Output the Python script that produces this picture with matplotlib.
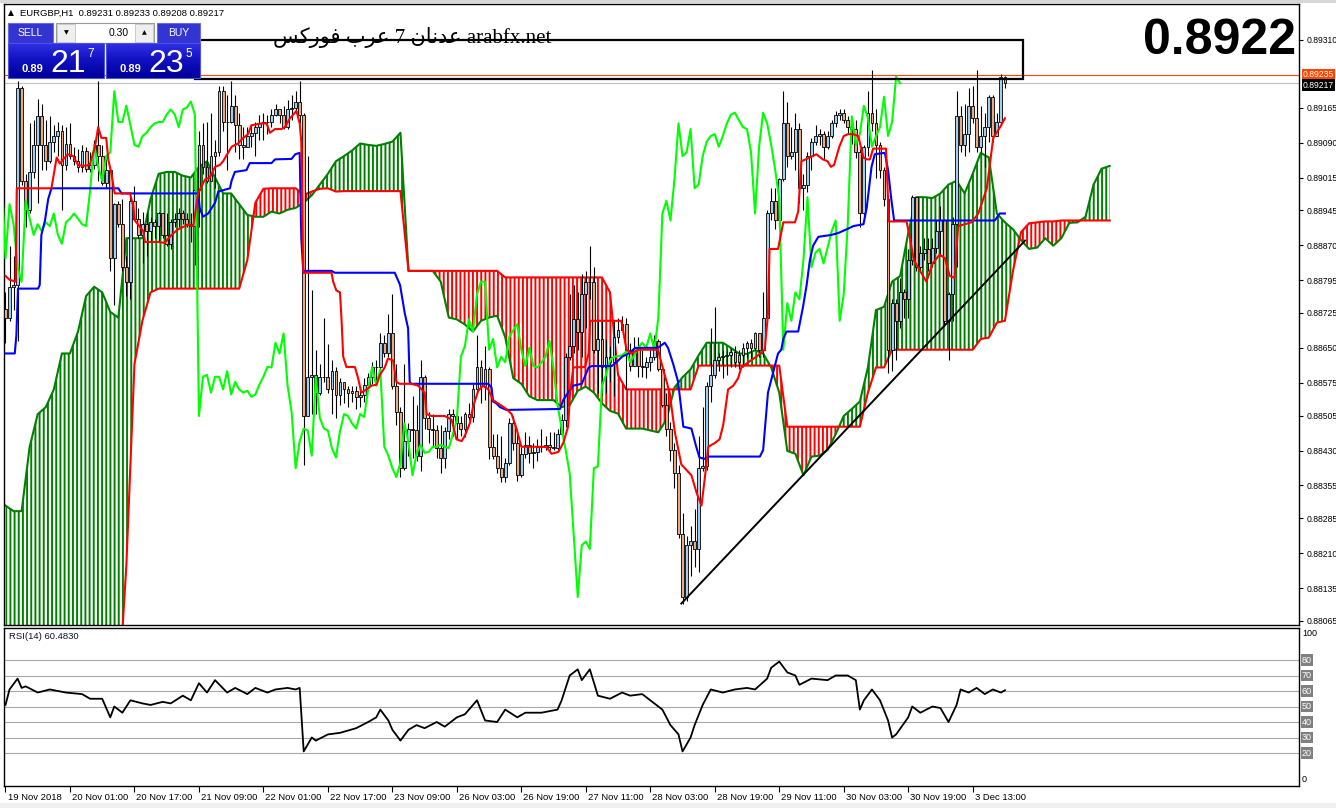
import matplotlib
matplotlib.use("Agg")
import matplotlib.pyplot as plt
import matplotlib.transforms as mtrans
from matplotlib.patches import Rectangle
from matplotlib.colors import LinearSegmentedColormap
import numpy as np

plt.rcParams['font.family'] = ['Liberation Sans', 'DejaVu Sans']
plt.rcParams['hatch.linewidth'] = 1.4

# ---------------- data (EURGBP H1) ----------------
open_first = 0.88734
close = [
0.88715, 0.88781, 0.88785, 0.89208, 0.89008, 0.88946, 0.89027, 0.89085, 0.89146, 0.89085,
0.89050, 0.89092, 0.89104, 0.89115, 0.89042, 0.89088, 0.89061, 0.89050, 0.89038, 0.89073,
0.89034, 0.89042, 0.89085, 0.89061, 0.89004, 0.89031, 0.88842, 0.88958, 0.88915, 0.88823,
0.88792, 0.88965, 0.88927, 0.88892, 0.88915, 0.88900, 0.88919, 0.88911, 0.88938, 0.88892,
0.88873, 0.88919, 0.88927, 0.88938, 0.88927, 0.88915, 0.88911, 0.88988, 0.89085, 0.89038,
0.89008, 0.89061, 0.89069, 0.89200, 0.89134, 0.89134, 0.89169, 0.89127, 0.89085, 0.89081,
0.89104, 0.89111, 0.89123, 0.89131, 0.89134, 0.89134, 0.89150, 0.89161, 0.89150, 0.89123,
0.89161, 0.89165, 0.89178, 0.89150, 0.88504, 0.88588, 0.88592, 0.88554, 0.88588, 0.88588,
0.88561, 0.88600, 0.88550, 0.88577, 0.88561, 0.88554, 0.88558, 0.88545, 0.88550, 0.88571,
0.88588, 0.88609, 0.88608, 0.88661, 0.88638, 0.88681, 0.88569, 0.88512, 0.88392, 0.88450,
0.88477, 0.88473, 0.88419, 0.88588, 0.88500, 0.88477, 0.88473, 0.88435, 0.88415, 0.88471,
0.88508, 0.88504, 0.88488, 0.88477, 0.88508, 0.88502, 0.88561, 0.88609, 0.88569, 0.88604,
0.88438, 0.88419, 0.88392, 0.88373, 0.88404, 0.88488, 0.88446, 0.88377, 0.88423, 0.88442,
0.88425, 0.88427, 0.88438, 0.88438, 0.88442, 0.88438, 0.88435, 0.88465, 0.88496, 0.88631,
0.88654, 0.88711, 0.88685, 0.88765, 0.88792, 0.88792, 0.88646, 0.88669, 0.88608, 0.88631,
0.88619, 0.88673, 0.88688, 0.88701, 0.88646, 0.88611, 0.88650, 0.88611, 0.88608, 0.88619,
0.88631, 0.88665, 0.88604, 0.88527, 0.88477, 0.88431, 0.88381, 0.88250, 0.88116, 0.88227,
0.88235, 0.88219, 0.88392, 0.88396, 0.88569, 0.88592, 0.88623, 0.88631, 0.88632, 0.88634,
0.88642, 0.88619, 0.88634, 0.88650, 0.88661, 0.88650, 0.88681, 0.88646, 0.88715, 0.88938,
0.88965, 0.88923, 0.89011, 0.89131, 0.89061, 0.89069, 0.89119, 0.88992, 0.89000, 0.89061,
0.89092, 0.89104, 0.89108, 0.89081, 0.89104, 0.89131, 0.89150, 0.89154, 0.89138, 0.89123,
0.89119, 0.89069, 0.88938, 0.89081, 0.89154, 0.89131, 0.89085, 0.89031, 0.88969, 0.88646,
0.88746, 0.88708, 0.88769, 0.88754, 0.88838, 0.88973, 0.88823, 0.88854, 0.88862, 0.88831,
0.88865, 0.88900, 0.88923, 0.88708, 0.88765, 0.88915, 0.89146, 0.89085, 0.89108, 0.89169,
0.89142, 0.89081, 0.89104, 0.89123, 0.89188, 0.89104, 0.89134, 0.89231, 0.89217,
]
high = [
0.88769, 0.88869, 0.88846, 0.89223, 0.89211, 0.89023, 0.89131, 0.89138, 0.89184, 0.89173,
0.89138, 0.89146, 0.89127, 0.89134, 0.89127, 0.89123, 0.89131, 0.89081, 0.89077, 0.89085,
0.89081, 0.89069, 0.89096, 0.89223, 0.89085, 0.89054, 0.89038, 0.88961, 0.88965, 0.88969,
0.88846, 0.88985, 0.88996, 0.88950, 0.88942, 0.88938, 0.88931, 0.88927, 0.88942, 0.88938,
0.88938, 0.88927, 0.88938, 0.88950, 0.88946, 0.88938, 0.88938, 0.89008, 0.89115, 0.89131,
0.89134, 0.89154, 0.89096, 0.89211, 0.89211, 0.89192, 0.89223, 0.89192, 0.89154, 0.89123,
0.89123, 0.89127, 0.89134, 0.89150, 0.89154, 0.89150, 0.89161, 0.89173, 0.89158, 0.89169,
0.89181, 0.89192, 0.89200, 0.89223, 0.89154, 0.89061, 0.88773, 0.88646, 0.88615, 0.88715,
0.88658, 0.88623, 0.88608, 0.88585, 0.88577, 0.88569, 0.88569, 0.88569, 0.88569, 0.88585,
0.88596, 0.88619, 0.88623, 0.88681, 0.88677, 0.88723, 0.88765, 0.88615, 0.88523, 0.88615,
0.88488, 0.88546, 0.88527, 0.88623, 0.88592, 0.88512, 0.88508, 0.88485, 0.88485, 0.88481,
0.88519, 0.88519, 0.88519, 0.88504, 0.88512, 0.88531, 0.88573, 0.88677, 0.88623, 0.88654,
0.88608, 0.88465, 0.88465, 0.88462, 0.88415, 0.88500, 0.88504, 0.88469, 0.88438, 0.88469,
0.88462, 0.88446, 0.88454, 0.88477, 0.88462, 0.88469, 0.88469, 0.88477, 0.88508, 0.88638,
0.88765, 0.88785, 0.88769, 0.88808, 0.88815, 0.88869, 0.88823, 0.88708, 0.88708, 0.88669,
0.88654, 0.88708, 0.88715, 0.88719, 0.88715, 0.88661, 0.88673, 0.88673, 0.88646, 0.88631,
0.88646, 0.88677, 0.88669, 0.88608, 0.88554, 0.88492, 0.88446, 0.88400, 0.88296, 0.88246,
0.88269, 0.88304, 0.88462, 0.88523, 0.88577, 0.88692, 0.88738, 0.88638, 0.88646, 0.88646,
0.88650, 0.88654, 0.88646, 0.88661, 0.88665, 0.88669, 0.88685, 0.88681, 0.88769, 0.88946,
0.88992, 0.88992, 0.89015, 0.89200, 0.89177, 0.89123, 0.89154, 0.89131, 0.89023, 0.89069,
0.89100, 0.89127, 0.89119, 0.89115, 0.89115, 0.89138, 0.89158, 0.89161, 0.89161, 0.89146,
0.89138, 0.89138, 0.89077, 0.89085, 0.89200, 0.89246, 0.89161, 0.89092, 0.89038, 0.88977,
0.88754, 0.88754, 0.88800, 0.88777, 0.88862, 0.88977, 0.88961, 0.88869, 0.88885, 0.88885,
0.88885, 0.88923, 0.88954, 0.88927, 0.88769, 0.88931, 0.89200, 0.89169, 0.89173, 0.89208,
0.89211, 0.89246, 0.89169, 0.89154, 0.89192, 0.89192, 0.89154, 0.89238, 0.89233,
]
low = [
0.88661, 0.88708, 0.88731, 0.88665, 0.89000, 0.88908, 0.88938, 0.89015, 0.88961, 0.89031,
0.89031, 0.89046, 0.89069, 0.89061, 0.88946, 0.89031, 0.89054, 0.89042, 0.89027, 0.89027,
0.89027, 0.89027, 0.89034, 0.89008, 0.89000, 0.88992, 0.88815, 0.88742, 0.88908, 0.88815,
0.88761, 0.88754, 0.88923, 0.88885, 0.88831, 0.88846, 0.88877, 0.88885, 0.88877, 0.88885,
0.88869, 0.88862, 0.88908, 0.88908, 0.88915, 0.88908, 0.88877, 0.88827, 0.88908, 0.89023,
0.89004, 0.89008, 0.88992, 0.89061, 0.89115, 0.89031, 0.89131, 0.89069, 0.89054, 0.89054,
0.89081, 0.89081, 0.89061, 0.89096, 0.89096, 0.89108, 0.89123, 0.89146, 0.89131, 0.89119,
0.89119, 0.89138, 0.89154, 0.89131, 0.88400, 0.88504, 0.88508, 0.88508, 0.88550, 0.88577,
0.88554, 0.88508, 0.88500, 0.88527, 0.88531, 0.88523, 0.88535, 0.88519, 0.88523, 0.88535,
0.88569, 0.88573, 0.88577, 0.88600, 0.88631, 0.88631, 0.88561, 0.88485, 0.88373, 0.88388,
0.88419, 0.88415, 0.88408, 0.88385, 0.88477, 0.88446, 0.88438, 0.88415, 0.88381, 0.88392,
0.88454, 0.88462, 0.88454, 0.88462, 0.88458, 0.88496, 0.88492, 0.88554, 0.88531, 0.88538,
0.88412, 0.88412, 0.88381, 0.88362, 0.88362, 0.88400, 0.88431, 0.88365, 0.88373, 0.88415,
0.88404, 0.88392, 0.88408, 0.88427, 0.88431, 0.88431, 0.88431, 0.88431, 0.88462, 0.88481,
0.88623, 0.88638, 0.88646, 0.88631, 0.88692, 0.88754, 0.88638, 0.88554, 0.88546, 0.88554,
0.88577, 0.88546, 0.88661, 0.88692, 0.88561, 0.88600, 0.88623, 0.88588, 0.88588, 0.88585,
0.88600, 0.88623, 0.88600, 0.88523, 0.88462, 0.88408, 0.88350, 0.88242, 0.88100, 0.88108,
0.88162, 0.88181, 0.88169, 0.88385, 0.88388, 0.88535, 0.88585, 0.88600, 0.88585, 0.88592,
0.88608, 0.88608, 0.88604, 0.88608, 0.88631, 0.88623, 0.88646, 0.88631, 0.88631, 0.88708,
0.88923, 0.88904, 0.88908, 0.89008, 0.89038, 0.89054, 0.89031, 0.88961, 0.88946, 0.88985,
0.89031, 0.89085, 0.89085, 0.89054, 0.89077, 0.89100, 0.89123, 0.89138, 0.89131, 0.89108,
0.89088, 0.89058, 0.88908, 0.88923, 0.89061, 0.89115, 0.89015, 0.89015, 0.88954, 0.88596,
0.88600, 0.88623, 0.88692, 0.88715, 0.88715, 0.88827, 0.88815, 0.88815, 0.88838, 0.88815,
0.88823, 0.88854, 0.88846, 0.88696, 0.88623, 0.88708, 0.88823, 0.89069, 0.89061, 0.89069,
0.89131, 0.89069, 0.89069, 0.89038, 0.89092, 0.89092, 0.89115, 0.89131, 0.89208,
]

# Ichimoku lines (bar index, price)
tenkan = [
(0, .88804), (1, .88796), (2.5, .88792), (2.8, .88992), (11.4, .88992), (12.7, .89058),
(13.5, .89045), (14.3, .89054), (15.5, .89065), (16.8, .89061), (18, .89042), (19.3, .89040),
(20.9, .89042), (22.2, .89081), (23, .89123), (23.8, .89100), (25, .89100), (25.5, .89054),
(26.3, .89023), (27.1, .88981), (30.9, .88981), (31.7, .88954), (32.1, .88923), (34.2, .88900),
(34.6, .88877), (37.9, .88877), (39.5, .88875), (41.2, .88892), (42.8, .88904), (45.3, .88914),
(46.6, .88911), (47.8, .88981), (49.5, .89011), (50.7, .89015), (52, .89038), (53.2, .89042),
(54, .89050), (56.1, .89081), (57.7, .89088), (59, .89100), (60.2, .89108), (61, .89127),
(63.5, .89131), (64.8, .89131), (65.6, .89111), (66.9, .89119), (68.5, .89119), (69.3, .89123),
(70.6, .89142), (72.2, .89158), (73, .89131), (73.4, .89092), (73.9, .88811), (80.9, .88811),
(81.3, .88792), (82.1, .88773), (83, .88769), (83.4, .88708), (83.8, .88631), (84.6, .88609),
(86.7, .88609), (87.5, .88585), (88.3, .88554), (89.6, .88561), (90.8, .88569), (92.1, .88571),
(92.9, .88592), (94.1, .88608), (94.9, .88627), (96.2, .88623), (97, .88577), (97.8, .88573),
(100.7, .88573), (102.4, .88569), (104, .88554), (104.5, .88508), (105.7, .88504), (109, .88504),
(110.7, .88496), (111.9, .88454), (113.2, .88450), (114, .88462), (115.2, .88488), (116, .88523),
(117.3, .88558), (118.5, .88569), (119.8, .88561), (121, .88538), (122.2, .88531), (124.3, .88519),
(125.6, .88508), (126.8, .88477), (128, .88438), (134.2, .88438), (135.5, .88423), (137.2, .88427),
(138.4, .88446), (139.6, .88481), (140.1, .88554), (140.9, .88608), (143.8, .88609), (144.7, .88638),
(145.1, .88708), (152.8, .88708), (154.1, .88646), (155.3, .88638), (157, .88646), (161.9, .88646),
(163.2, .88604), (164.8, .88554), (166.1, .88469), (167.7, .88400), (170.2, .88377), (171.5, .88339),
(172.7, .88312), (173.5, .88369), (174.4, .88438), (176, .88446), (177.2, .88454), (178.1, .88485),
(179.3, .88561), (180.6, .88569), (181.8, .88585), (182.6, .88608), (184.3, .88619), (186.3, .88631),
(188.4, .88646), (189.2, .88723), (189.6, .88862), (191.7, .88862), (193, .88919), (195.9, .88919),
(196.7, .88942), (197.5, .89050), (199.6, .89058), (201.2, .89065), (202.8, .89054), (204, .89050),
(204.8, .89038), (205.6, .89042), (206.9, .89081), (208, .89104), (209.1, .89108), (210.4, .89108),
(211.6, .89104), (212.9, .89058), (213.7, .89054), (214.5, .89054), (215.3, .89077), (218.5, .89077),
(219.2, .88921), (223.6, .88921), (224.5, .88881), (225.4, .88838), (228.5, .88792), (230.1, .88831),
(231.8, .88850), (233.1, .88842), (234.3, .88804), (235.5, .88800), (236.4, .88911), (239.7, .88919),
(241.4, .88938), (243.5, .88992), (245.1, .89100), (246.8, .89123), (248, .89142),
]
kijun = [
(0, .88638), (2.3, .88638), (2.7, .88677), (3.1, .88777), (8.1, .88777), (8.5, .88785),
(8.9, .88892), (9.8, .88923), (10.6, .88969), (11.4, .88992), (28, .88992), (28.8, .88981),
(47.8, .88981), (48.2, .88950), (49, .88931), (50.3, .88938), (52, .88961), (52.8, .88985),
(55.7, .88992), (56.1, .89008), (56.9, .89027), (59.8, .89031), (60.6, .89046), (66, .89046),
(66.9, .89054), (71, .89055), (71.9, .89065), (73, .89068), (73.4, .88885), (73.9, .88811),
(74.3, .88815), (80.9, .88815), (81.7, .88811), (96.6, .88811), (97.9, .88785), (99.1, .88723),
(99.9, .88692), (100.3, .88577), (100.7, .88573), (119.8, .88573), (120.6, .88565), (121, .88535),
(121.8, .88531), (122.7, .88523), (124.3, .88517), (137.6, .88519), (138.4, .88538), (139.6, .88554),
(140.9, .88569), (143, .88573), (144.7, .88608), (145.5, .88611), (150.4, .88611), (151.6, .88619),
(153, .88631), (154.6, .88638), (156.3, .88650), (161.9, .88650), (163.6, .88661), (164.4, .88650),
(165.7, .88615), (166.9, .88577), (168.2, .88481), (170.2, .88477), (171.4, .88438), (172.2, .88415),
(173.5, .88412), (174.3, .88417), (187.2, .88417), (188, .88431), (189.2, .88554), (191.7, .88638),
(192.5, .88646), (193, .88669), (193.8, .88685), (196.7, .88685), (197.9, .88738), (198.8, .88785),
(199.6, .88838), (200.4, .88869), (201.7, .88888), (204.9, .88892), (206.6, .88896), (208.7, .88904),
(210.4, .88911), (212.9, .88915), (213.7, .88950), (214.9, .89038), (215.7, .89065), (218.2, .89068),
(219, .89031), (219.8, .88969), (220.5, .88923), (245.5, .88923), (246.7, .88938), (248, .88938),
]
# Senkou spans read every 2 bars (bars 0..274, shifted 26 ahead)
span_a = [
.88312, .88300, .88300, .88438, .88508, .88523, .88561, .88638, .88638, .88685,
.88761, .88781, .88769, .88727, .88715, .88885, .88885, .88885, .88969, .89023,
.89027, .89027, .89019, .89015, .89038, .89050, .89015, .88981, .88981, .88958,
.88935, .88931, .88931, .88942, .88938, .88946, .88950, .88961, .88977, .89000,
.89023, .89050, .89061, .89073, .89088, .89085, .89083, .89087, .89092, .89111,
.88815, .88815, .88815, .88815, .88792, .88715, .88711, .88700, .88685, .88708,
.88715, .88719, .88673, .88585, .88573, .88546, .88538, .88538, .88538, .88523,
.88527, .88558, .88567, .88554, .88531, .88515, .88509, .88477, .88477, .88477,
.88473, .88469, .88496, .88565, .88587, .88604, .88634, .88661, .88661, .88661,
.88650, .88638, .88637, .88645, .88638, .88608, .88554, .88429, .88423, .88377,
.88417, .88419, .88431, .88465, .88504, .88519, .88535, .88608, .88731, .88738,
.88792, .88804, .88896, .88973, .88973, .88971, .88981, .89000, .89008, .88981,
.89023, .89068, .89058, .88938, .88919, .88904, .88881, .88862, .88865, .88885,
.88869, .88885, .88918, .88919, .88931, .89000, .89034, .89040,
]
span_b = [
.8790, .8790, .8790, .8790, .8790, .8790, .8790, .8790, .8790, .8790,
.8790, .8790, .8790, .8790, .8790, .88185, .88615, .88709, .88769, .88777,
.88777, .88777, .88777, .88777, .88777, .88777, .88777, .88777, .88777, .88777,
.88838, .88961, .88991, .88992, .88992, .88992, .88992, .88978, .88985, .88991,
.88992, .88985, .88986, .88986, .88986, .88986, .88986, .88986, .88986, .88986,
.88815, .88815, .88815, .88815, .88815, .88815, .88815, .88815, .88815, .88815,
.88815, .88815, .88801, .88801, .88801, .88801, .88801, .88801, .88801, .88801,
.88801, .88801, .88801, .88801, .88801, .88769, .88592, .88561, .88561, .88561,
.88561, .88561, .88561, .88561, .88561, .88561, .88612, .88612, .88612, .88612,
.88612, .88612, .88612, .88612, .88612, .88612, .88612, .88481, .88481, .88481,
.88481, .88481, .88481, .88481, .88481, .88481, .88481, .88554, .88608, .88608,
.88646, .88646, .88646, .88646, .88646, .88646, .88646, .88646, .88646, .88646,
.88646, .88669, .88672, .88704, .88708, .88815, .88898, .88917, .88919, .88921,
.88921, .88923, .88923, .88923, .88923, .88923, .88923, .88923,
]
chikou_shift = 26

rsi = [
(0, 51), (1, 61), (3, 68), (4, 62), (5, 63), (8, 59), (11, 61), (15, 59), (19, 58), (21, 55),
(24, 55), (26, 43), (27, 50), (29, 46), (31, 54), (34, 52), (36, 51), (39, 53), (41, 52), (44, 57),
(46, 54), (48, 65), (50, 59), (52, 67), (55, 59), (57, 62), (60, 58), (62, 62), (65, 59), (67, 61),
(70, 62), (72, 61), (73, 62), (74, 21), (76, 30), (77, 28), (80, 32), (83, 33), (87, 36), (90, 40),
(92, 43), (93, 48), (95, 41), (96, 35), (98, 28), (100, 35), (102, 38), (104, 36), (107, 40), (109, 37),
(112, 43), (114, 45), (117, 54), (119, 41), (122, 40), (124, 48), (127, 43), (129, 46), (133, 46), (137, 48),
(138, 54), (140, 70), (142, 74), (143, 67), (145, 74), (147, 57), (150, 55), (153, 59), (155, 57), (158, 58),
(160, 54), (163, 48), (165, 38), (167, 32), (168, 21), (170, 30), (171, 38), (173, 51), (175, 61), (178, 59),
(181, 61), (184, 62), (186, 61), (189, 68), (190, 75), (192, 79), (194, 72), (196, 70), (197, 64), (200, 68),
(204, 67), (206, 70), (209, 70), (211, 67), (212, 48), (213, 54), (215, 61), (217, 54), (219, 41), (220, 30),
(221, 32), (224, 43), (225, 50), (227, 46), (230, 50), (232, 49), (234, 40), (236, 51), (237, 61), (239, 59),
(241, 62), (243, 58), (245, 61), (247, 59), (248, 60.483),
]
rsi_levels = [20, 30, 40, 50, 60, 70, 80]

price_ticks = [0.89310, 0.89165, 0.89090, 0.89015, 0.88945, 0.88870, 0.88795, 0.88725, 0.88650,
               0.88575, 0.88505, 0.88430, 0.88355, 0.88285, 0.88210, 0.88135, 0.88065]
price_tick_labels = ['0.89310', '0.89165', '0.89090', '0.89015', '0.88945', '0.88870', '0.88795',
                     '0.88725', '0.88650', '0.88575', '0.88505', '0.88430', '0.88355', '0.88285',
                     '0.88210', '0.88135', '0.88065']
time_ticks = [0, 16, 32, 48, 64, 80, 96, 112, 128, 144, 160, 176, 192, 208, 224, 240]
time_labels = ['19 Nov 2018', '20 Nov 01:00', '20 Nov 17:00', '21 Nov 09:00', '22 Nov 01:00',
               '22 Nov 17:00', '23 Nov 09:00', '26 Nov 03:00', '26 Nov 19:00', '27 Nov 11:00',
               '28 Nov 03:00', '28 Nov 19:00', '29 Nov 11:00', '30 Nov 03:00', '30 Nov 19:00',
               '3 Dec 13:00']
ask_price = 0.89235
bid_price = 0.89217
trend_bars = [167.7, 253.0]
trend_prices = [0.88102, 0.88880]
rect_bars = [47.0, 252.4]
rect_prices = [0.89227, 0.89310]
header = 'EURGBP,H1  0.89231 0.89233 0.89208 0.89217'
big_price = '0.8922'
rsi_title = 'RSI(14) 60.4830'
# visual-order Arabic (presentation forms): عدنان 7 عرب فوركس
arabic_note = ('\uFEB2\uFEDB\uFEAD\uFEEE\uFED3 \uFE8F\uFEAE\uFECB 7 '
               '\uFEE5\uFE8E\uFEE7\uFEAA\uFECB arabfx.net')

# ---------------- figure ----------------
W, H = 1336, 808
fig = plt.figure(figsize=(W / 100, H / 100), dpi=100)
fig.patch.set_facecolor('white')


def box(x0, y0, x1, y1):
    return [x0 / W, 1 - y1 / H, (x1 - x0) / W, (y1 - y0) / H]


ax = fig.add_axes(box(4, 4, 1299, 625))
rx = fig.add_axes(box(4, 628, 1299, 786))
XL = (-0.37, 320.97)
for a in (ax, rx):
    a.set_xlim(*XL)
    a.set_facecolor('white')
    for s in a.spines.values():
        s.set_color('black')
        s.set_linewidth(1.0)
ax.set_ylim(0.88056, 0.89387)

c = np.array(close)
hi = np.array(high)
lo = np.array(low)
op = np.concatenate([[open_first], c[:-1]])
xb = np.arange(len(c))

# cloud
kx = np.arange(0, 2 * len(span_a), 2)
A = np.array(span_a)
B = np.array(span_b)
ax.fill_between(kx, A, B, where=A >= B, interpolate=True, facecolor='none',
                edgecolor='#008000', hatch='||||', linewidth=0, zorder=1)
ax.fill_between(kx, A, B, where=A < B, interpolate=True, facecolor='none',
                edgecolor='#FF0000', hatch='||||', linewidth=0, zorder=1)
ax.plot(kx, A, color='#008000', lw=1.5, zorder=2)
ax.plot(kx, B, color='#FF0000', lw=1.5, zorder=2)

ax.axhline(ask_price, color='#FF4500', lw=0.8, zorder=2.5)
ax.axhline(bid_price, color='#C0C0C0', lw=0.8, zorder=2.5)

# candles
bot = np.minimum(op, c)
top = np.maximum(op, c)
up = c > op
ax.vlines(xb, np.minimum(lo, bot), np.maximum(hi, top), color='black', lw=0.8, zorder=3)
ax.bar(xb[up], (top - bot)[up], bottom=bot[up], width=0.7, color='#A3CDEF',
       edgecolor='black', linewidth=0.6, zorder=3.5)
ax.bar(xb[~up], (top - bot)[~up], bottom=bot[~up], width=0.7, color='#E8AA86',
       edgecolor='black', linewidth=0.6, zorder=3.5)

# lines
ax.plot(xb - chikou_shift, c, color='#00FF00', lw=1.5, zorder=4)
kb, kv = zip(*kijun)
ax.plot(kb, kv, color='#0000FF', lw=1.5, zorder=5)
tb, tv = zip(*tenkan)
ax.plot(tb, tv, color='#FF0000', lw=1.5, zorder=6)

ax.plot(trend_bars, trend_prices, color='black', lw=1.4, zorder=7)
ax.add_patch(Rectangle((rect_bars[0], rect_prices[0]), rect_bars[1] - rect_bars[0],
                       rect_prices[1] - rect_prices[0], fill=False, ec='black', lw=1.6, zorder=7))

ax.tick_params(axis='x', bottom=False, labelbottom=False)
ax.yaxis.tick_right()
ax.set_yticks(price_ticks)
ax.set_yticklabels(price_tick_labels)
ax.tick_params(axis='y', direction='out', length=3, width=0.8, pad=2.5, labelsize=6.2,
               colors='black')

trp = mtrans.blended_transform_factory(fig.transFigure, ax.transData)
ax.text(1303 / W, ask_price, '0.89235', transform=trp, fontsize=6.2, color='white',
        va='center', ha='left', bbox=dict(boxstyle='square,pad=0.15', fc='#FF4500', ec='none'),
        zorder=10)
ax.text(1303 / W, bid_price - 0.00004, '0.89217', transform=trp, fontsize=6.2, color='white',
        va='center', ha='left', bbox=dict(boxstyle='square,pad=0.15', fc='black', ec='none'),
        zorder=10)

# RSI
rx.set_ylim(-1.29, 100.65)
for lv in rsi_levels:
    rx.axhline(lv, color='#A8A8A8', lw=0.8, zorder=1)
rb, rv = zip(*rsi)
rx.plot(rb, rv, color='black', lw=1.3, zorder=3)
rx.set_yticks([])
rx.set_xticks(time_ticks)
rx.tick_params(axis='x', direction='out', length=4, width=0.8, labelbottom=False)
rx.text(0.004, 0.975, rsi_title, transform=rx.transAxes, fontsize=6.8, va='top', ha='left',
        color='#101030')
trr = mtrans.blended_transform_factory(fig.transFigure, rx.transData)
for lv in rsi_levels:
    rx.text(1302 / W, lv, str(lv), transform=trr, fontsize=6.5, color='white', va='center',
            ha='left', bbox=dict(boxstyle='square,pad=0.12', fc='#808080', ec='none'))
rx.text(1302 / W, 100, '100', transform=trr, fontsize=6.5, va='top', ha='left')
rx.text(1302 / W, 0, '0', transform=trr, fontsize=6.5, va='bottom', ha='left')

trx = mtrans.blended_transform_factory(rx.transData, fig.transFigure)
for t, lab in zip(time_ticks, time_labels):
    rx.text(t + 0.5, 1 - 797 / H, lab, transform=trx, fontsize=6.8, va='center', ha='left')

# ---------------- overlay (pixel coordinates) ----------------
ov = fig.add_axes([0, 0, 1, 1], zorder=20)
ov.set_xlim(0, W)
ov.set_ylim(H, 0)
ov.axis('off')
ov.patch.set_alpha(0)

ov.add_patch(Rectangle((0, 0), W, 2.5, fc='#D8D8D8', ec='none'))
ov.add_patch(Rectangle((0, 803), W, 5, fc='#F0F0F0', ec='none'))

ov.text(8, 13, '\u25B2', fontsize=5.5, va='center', ha='left', family=['DejaVu Sans'])
ov.text(20, 13, header, fontsize=6.8, va='center', ha='left')

ov.text(1296, 54, big_price, fontsize=36, fontweight='bold', ha='right', va='baseline')
ov.text(412, 43, arabic_note, fontsize=15, ha='center', va='baseline',
        family=['Liberation Serif', 'DejaVu Sans'])

# one-click trading panel
tab_col = '#3434D2'
ov.add_patch(Rectangle((8, 23), 45, 20, fc=tab_col, ec='#6A6AE8', lw=0.8))
ov.add_patch(Rectangle((157, 23), 43, 20, fc=tab_col, ec='#6A6AE8', lw=0.8))
ov.add_patch(Rectangle((56, 23), 98, 20, fc='white', ec='#9A9A9A', lw=0.8))
ov.add_patch(Rectangle((57, 24), 18, 18, fc='#EFEFEF', ec='#C4C4C4', lw=0.6))
ov.add_patch(Rectangle((135, 24), 18, 18, fc='#EFEFEF', ec='#C4C4C4', lw=0.6))
ov.text(66, 33, '\u25BC', fontsize=4.5, ha='center', va='center', family=['DejaVu Sans'])
ov.text(144, 33, '\u25B2', fontsize=4.5, ha='center', va='center', family=['DejaVu Sans'])
ov.text(30.5, 33, 'SELL', fontsize=7.5, color='white', ha='center', va='center')
ov.text(178.5, 33, 'BUY', fontsize=7.5, color='white', ha='center', va='center')
ov.text(129, 33, '0.30', fontsize=7.5, color='black', ha='right', va='center')

cm = LinearSegmentedColormap.from_list('mt', ['#3030E6', '#1010C0', '#00009A'])
grad = np.linspace(0, 1, 64).reshape(-1, 1)
for x0, x1 in ((8, 104), (106, 200)):
    ov.imshow(grad, extent=(x0, x1, 78, 43), cmap=cm, aspect='auto', zorder=1)
    ov.add_patch(Rectangle((x0, 43), x1 - x0, 35, fill=False, ec='#5050E0', lw=0.8, zorder=2))
ov.set_xlim(0, W)
ov.set_ylim(H, 0)
for xs, big, sup in ((22, '21', '7'), (120, '23', '5')):
    ov.text(xs, 72, '0.89', fontsize=8, fontweight='bold', color='white', ha='left',
            va='baseline', zorder=3)
    ov.text(xs + 28, 72, big, fontsize=23, color='white', ha='left', va='baseline', zorder=3)
    ov.text(xs + 65, 57, sup, fontsize=8.5, color='white', ha='left', va='baseline', zorder=3)

fig.savefig('out.png', dpi=100)
